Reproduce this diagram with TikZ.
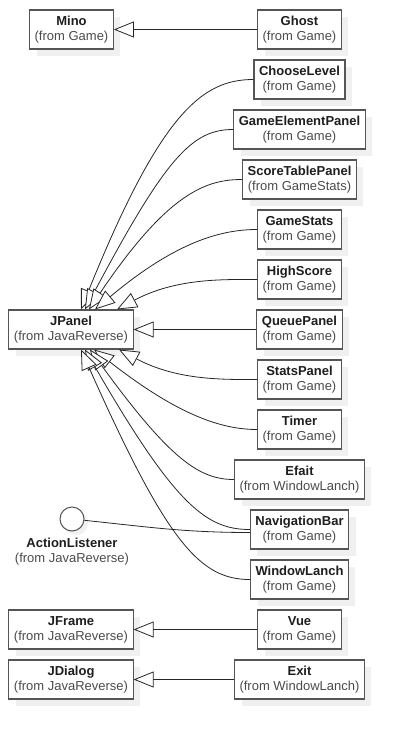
\documentclass[tikz,border=0pt]{standalone}
\usepackage{fontspec}
\setsansfont{Liberation Sans}
\usetikzlibrary{arrows.meta,positioning,shadows}
\definecolor{BoxLine}{RGB}{85,85,85}
\definecolor{FromGray}{RGB}{75,75,75}
\definecolor{NameInk}{RGB}{30,30,30}
\definecolor{ShadowGray}{RGB}{240,240,240}
\newcommand{\umlcls}[2]{\textbf{#1}\\{\color{FromGray}(from #2)}}

\begin{document}
\begin{tikzpicture}[x=1pt,y=1pt,font=\sffamily\fontsize{13pt}{15pt}\selectfont,
  cls/.style={draw=BoxLine,line width=1.1pt,fill=white,align=center,inner xsep=5pt,inner ysep=2pt,
    minimum height=39pt,text=NameInk,
    drop shadow={shadow xshift=7pt,shadow yshift=-7pt,fill=ShadowGray,opacity=1}},
  iface/.style={circle,draw=BoxLine,line width=1pt,fill=white,minimum size=24pt,inner sep=0pt,
    drop shadow={shadow xshift=4pt,shadow yshift=-4pt,fill=ShadowGray,opacity=1}},
  gen/.style={draw=black!85,line width=0.8pt,-{Triangle[length=20pt,width=16pt,fill=white]}},
  link/.style={draw=black!85,line width=0.8pt}]
\useasboundingbox (0,0) rectangle (404,-739);
\node[cls] (mino) at (71.5,-29.5) {\umlcls{Mino}{Game}};
\node[cls] (ghost) at (299.5,-29.5) {\umlcls{Ghost}{Game}};
\node[cls] (choose) at (299.5,-79.5) {\umlcls{ChooseLevel}{Game}};
\node[cls] (elem) at (299.5,-129.5) {\umlcls{GameElementPanel}{Game}};
\node[cls] (score) at (299.5,-179.5) {\umlcls{ScoreTablePanel}{GameStats}};
\node[cls] (stats) at (299.5,-229.5) {\umlcls{GameStats}{Game}};
\node[cls] (high) at (299.5,-279.5) {\umlcls{HighScore}{Game}};
\node[cls] (queue) at (299.5,-329.5) {\umlcls{QueuePanel}{Game}};
\node[cls] (jpanel) at (71,-329.5) {\umlcls{JPanel}{JavaReverse}};
\node[cls] (statsp) at (299.5,-379.5) {\umlcls{StatsPanel}{Game}};
\node[cls] (timer) at (299.5,-429.5) {\umlcls{Timer}{Game}};
\node[cls] (efait) at (299.5,-479.5) {\umlcls{Efait}{WindowLanch}};
\node[cls] (navbar) at (299.5,-529.5) {\umlcls{NavigationBar}{Game}};
\node[cls] (winlanch) at (299.5,-579.5) {\umlcls{WindowLanch}{Game}};
\node[cls] (vue) at (299.5,-629.5) {\umlcls{Vue}{Game}};
\node[cls] (jframe) at (71,-629.5) {\umlcls{JFrame}{JavaReverse}};
\node[cls] (exit) at (299.5,-679.5) {\umlcls{Exit}{WindowLanch}};
\node[cls] (jdialog) at (71,-679.5) {\umlcls{JDialog}{JavaReverse}};
\node[iface] (al) at (72,-519) {};
\node[below=3pt of al,align=center,text=NameInk] (allbl) {\umlcls{ActionListener}{JavaReverse}};

\draw[gen] (ghost) -- (mino);
\draw[gen] (queue) -- (jpanel);
\draw[gen] (vue) -- (jframe);
\draw[gen] (exit) -- (jdialog);
\draw[gen] (choose.west) to[out=180,in=68,out looseness=0.45,in looseness=1.9] ([xshift=10pt]jpanel.north);
\draw[gen] (elem.west) to[out=180,in=62,out looseness=0.45,in looseness=1.9] ([xshift=14pt]jpanel.north);
\draw[gen] (score.west) to[out=180,in=56,out looseness=0.45,in looseness=1.8] ([xshift=18pt]jpanel.north);
\draw[gen] (stats.west) to[out=180,in=40,out looseness=0.5,in looseness=1.5] ([xshift=24pt]jpanel.north);
\draw[gen] (high.west) to[out=180,in=28,out looseness=0.6,in looseness=1.2] ([xshift=46pt]jpanel.north);
\draw[gen] (statsp.west) to[out=180,in=-28,out looseness=0.6,in looseness=1.2] ([xshift=48pt]jpanel.south);
\draw[gen] (timer.west) to[out=180,in=-38,out looseness=0.5,in looseness=1.5] ([xshift=23pt]jpanel.south);
\draw[gen] (efait.west) to[out=180,in=-54,out looseness=0.45,in looseness=1.8] ([xshift=19pt]jpanel.south);
\draw[gen] (navbar.west) to[out=180,in=-60,out looseness=0.45,in looseness=1.9] ([xshift=14pt]jpanel.south);
\draw[gen] (winlanch.west) to[out=180,in=-66,out looseness=0.45,in looseness=1.9] ([xshift=10pt]jpanel.south);
\draw[link] (al) to[out=-6,in=180] ([yshift=-3pt]navbar.west);
\end{tikzpicture}
\end{document}
